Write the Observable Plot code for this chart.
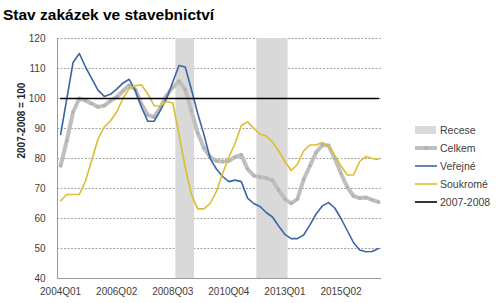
<!DOCTYPE html>
<html><head><meta charset="utf-8">
<script src="https://cdn.jsdelivr.net/npm/d3@7"></script>
<script src="https://cdn.jsdelivr.net/npm/@observablehq/plot@0.6"></script>
<style>
body{margin:0;background:#fff;font-family:"Liberation Sans",Arial,sans-serif;}
#wrap{position:relative;width:500px;height:303px;overflow:hidden;background:#fff;}
#chart{position:absolute;left:0;top:0;}
#title{position:absolute;left:3px;top:6px;font-weight:bold;font-size:15.5px;color:#000;white-space:nowrap;}
.item{position:absolute;left:415px;height:14px;display:flex;align-items:center;font-size:10.5px;color:#404040;white-space:nowrap;}
.item svg{margin-right:2px;}
</style></head>
<body>
<div id="wrap">
  <div id="chart"></div>
  <div id="title">Stav zakázek ve stavebnictví</div>
  <div id="legend"></div>
</div>
<script>
// Categories: quarters 2004Q1 .. 2016Q4
const years = [2004,2005,2006,2007,2008,2009,2010,2011,2012,2013,2014,2015,2016];
const quarterNames = ["Q01","Q02","Q03","Q04"];
const quarters = years.flatMap(y => quarterNames.map(q => y + q));

const xTickLabels = ["2004Q01","2006Q02","2008Q03","2010Q04","2013Q01","2015Q02"];
const yTicks = [40,50,60,70,80,90,100,110,120];

const recese = ["2008Q04","2009Q01","2009Q02","2012Q01","2012Q02","2012Q03","2012Q04","2013Q01"];

const celkem = [77.6,86,95.5,100,99.3,98.3,97.2,97.6,99.2,100.5,
  102.5,104.4,103,98,94.5,93.8,97,101,103.7,105.8,
  103,95.8,88.5,83.5,80.5,79.2,79,79.2,80.5,81.2,
  76.5,74.3,73.8,73.5,72.7,69.5,66.5,65,66.5,73,
  77.5,82,84.5,84.3,80,75,70.5,67.5,66.8,67,
  66.2,65.5];
const verejne = [88,100,112,115,110.5,106.6,102.8,100.7,101.4,103.1,
  105.1,106.4,102.6,97,92.4,92.4,96,100,105.5,111,
  110.5,103,95,88,80,76.5,74,72.3,72.8,72.3,
  66.8,65,64,62,60.5,57.5,54.7,53.3,53.3,54.5,
  57.8,61.5,64.2,65.3,63.5,60,56,52,49.5,48.9,
  49,50];
const soukrome = [65.9,68,68,68,72.5,79.5,86.5,90.5,92.5,95.5,
  100,103.3,104.3,104.5,101.5,97.6,97.5,99,98.5,88,
  77,68,63.2,63.2,65,69,75,80.5,85,91,
  92.2,90,88.2,87.5,85.5,82.5,79,76,78,82.5,
  84.5,84.5,85.3,84.2,81,77.5,74.5,74.5,79,80.7,
  80,79.7];
const referenceLevel = 100;

const names = ["Recese","Celkem","Veřejné","Soukromé","2007-2008"];
const colors = {"Recese":"#d9d9d9","Celkem":"#bfbfbf","Veřejné":"#3a66a3","Soukromé":"#dcbd2e","2007-2008":"#000000"};
const yLabel = "2007-2008 = 100";

const idx = q => quarters.indexOf(q);
const xDomain = [-0.5, quarters.length - 0.5];

// contiguous recession intervals
const recIdx = recese.map(idx).sort((a,b)=>a-b);
const recRanges = [];
for (const i of recIdx) {
  const last = recRanges[recRanges.length-1];
  if (last && last.end === i - 1) last.end = i; else recRanges.push({start:i, end:i});
}

const rows = quarters.map((q,i)=>({i, q, celkem:celkem[i], verejne:verejne[i], soukrome:soukrome[i], ref:referenceLevel}));

const chart = Plot.plot({
  width: 500, height: 303,
  marginLeft: 57, marginRight: 119, marginTop: 38, marginBottom: 25,
  style: {background:"transparent", fontFamily:"Liberation Sans, Arial, sans-serif", fontSize:"10px", color:"#404040"},
  x: {domain: xDomain, ticks: xTickLabels.map(idx), tickFormat: i => quarters[i], tickSize: 0, tickPadding: 9, label: null},
  y: {domain: [yTicks[0], yTicks[yTicks.length-1]], ticks: yTicks, tickSize: 0, tickPadding: 12, label: null},
  marks: [
    Plot.ruleY(yTicks.slice(1), {stroke:"#8c8c8c", strokeDasharray:"2,1.5", strokeWidth:0.8}),
    Plot.rectY(recRanges, {x1: d => d.start - 0.5, x2: d => d.end + 0.5, y1: yTicks[0], y2: yTicks[yTicks.length-1], fill: colors["Recese"]}),
    Plot.ruleY([yTicks[0]], {stroke:"#999", strokeWidth:1}),
    Plot.ruleX([xDomain[0]], {stroke:"#999", strokeWidth:1}),
    Plot.lineY(rows, {x:"i", y:"celkem", stroke: colors["Celkem"], strokeWidth: 4}),
    Plot.dot(rows, {x:"i", y:"celkem", symbol:"square", r:1.5, fill:"#b0b0b0"}),
    Plot.lineY(rows, {x:"i", y:"verejne", stroke: colors["Veřejné"], strokeWidth: 1.6}),
    Plot.lineY(rows, {x:"i", y:"soukrome", stroke: colors["Soukromé"], strokeWidth: 1.6}),
    Plot.lineY(rows, {x:"i", y:"ref", stroke: colors["2007-2008"], strokeWidth: 1.5}),
    Plot.text([yLabel], {frameAnchor:"left", rotate:-90, dx:-36, fontWeight:"bold", fontSize:10, fill:"#262626"})
  ]
});
document.getElementById("chart").appendChild(chart);

// legend
const legend = document.getElementById("legend");
const legendTop = [123,141,159,177,195];
names.forEach((n,k) => {
  const div = document.createElement("div");
  div.className = "item";
  div.style.top = legendTop[k] + "px";
  let sw;
  if (n === "Recese") sw = `<rect x="0" y="3" width="21" height="8" fill="${colors[n]}"/>`;
  else if (n === "Celkem") sw = `<line x1="0" x2="22" y1="7" y2="7" stroke="${colors[n]}" stroke-width="4"/><rect x="9.5" y="5.5" width="3" height="3" fill="#b0b0b0"/>`;
  else sw = `<line x1="0" x2="22" y1="7" y2="7" stroke="${colors[n]}" stroke-width="1.6"/>`;
  div.innerHTML = `<svg width="23" height="14">${sw}</svg><span>${n}</span>`;
  legend.appendChild(div);
});
</script>
</body></html>
